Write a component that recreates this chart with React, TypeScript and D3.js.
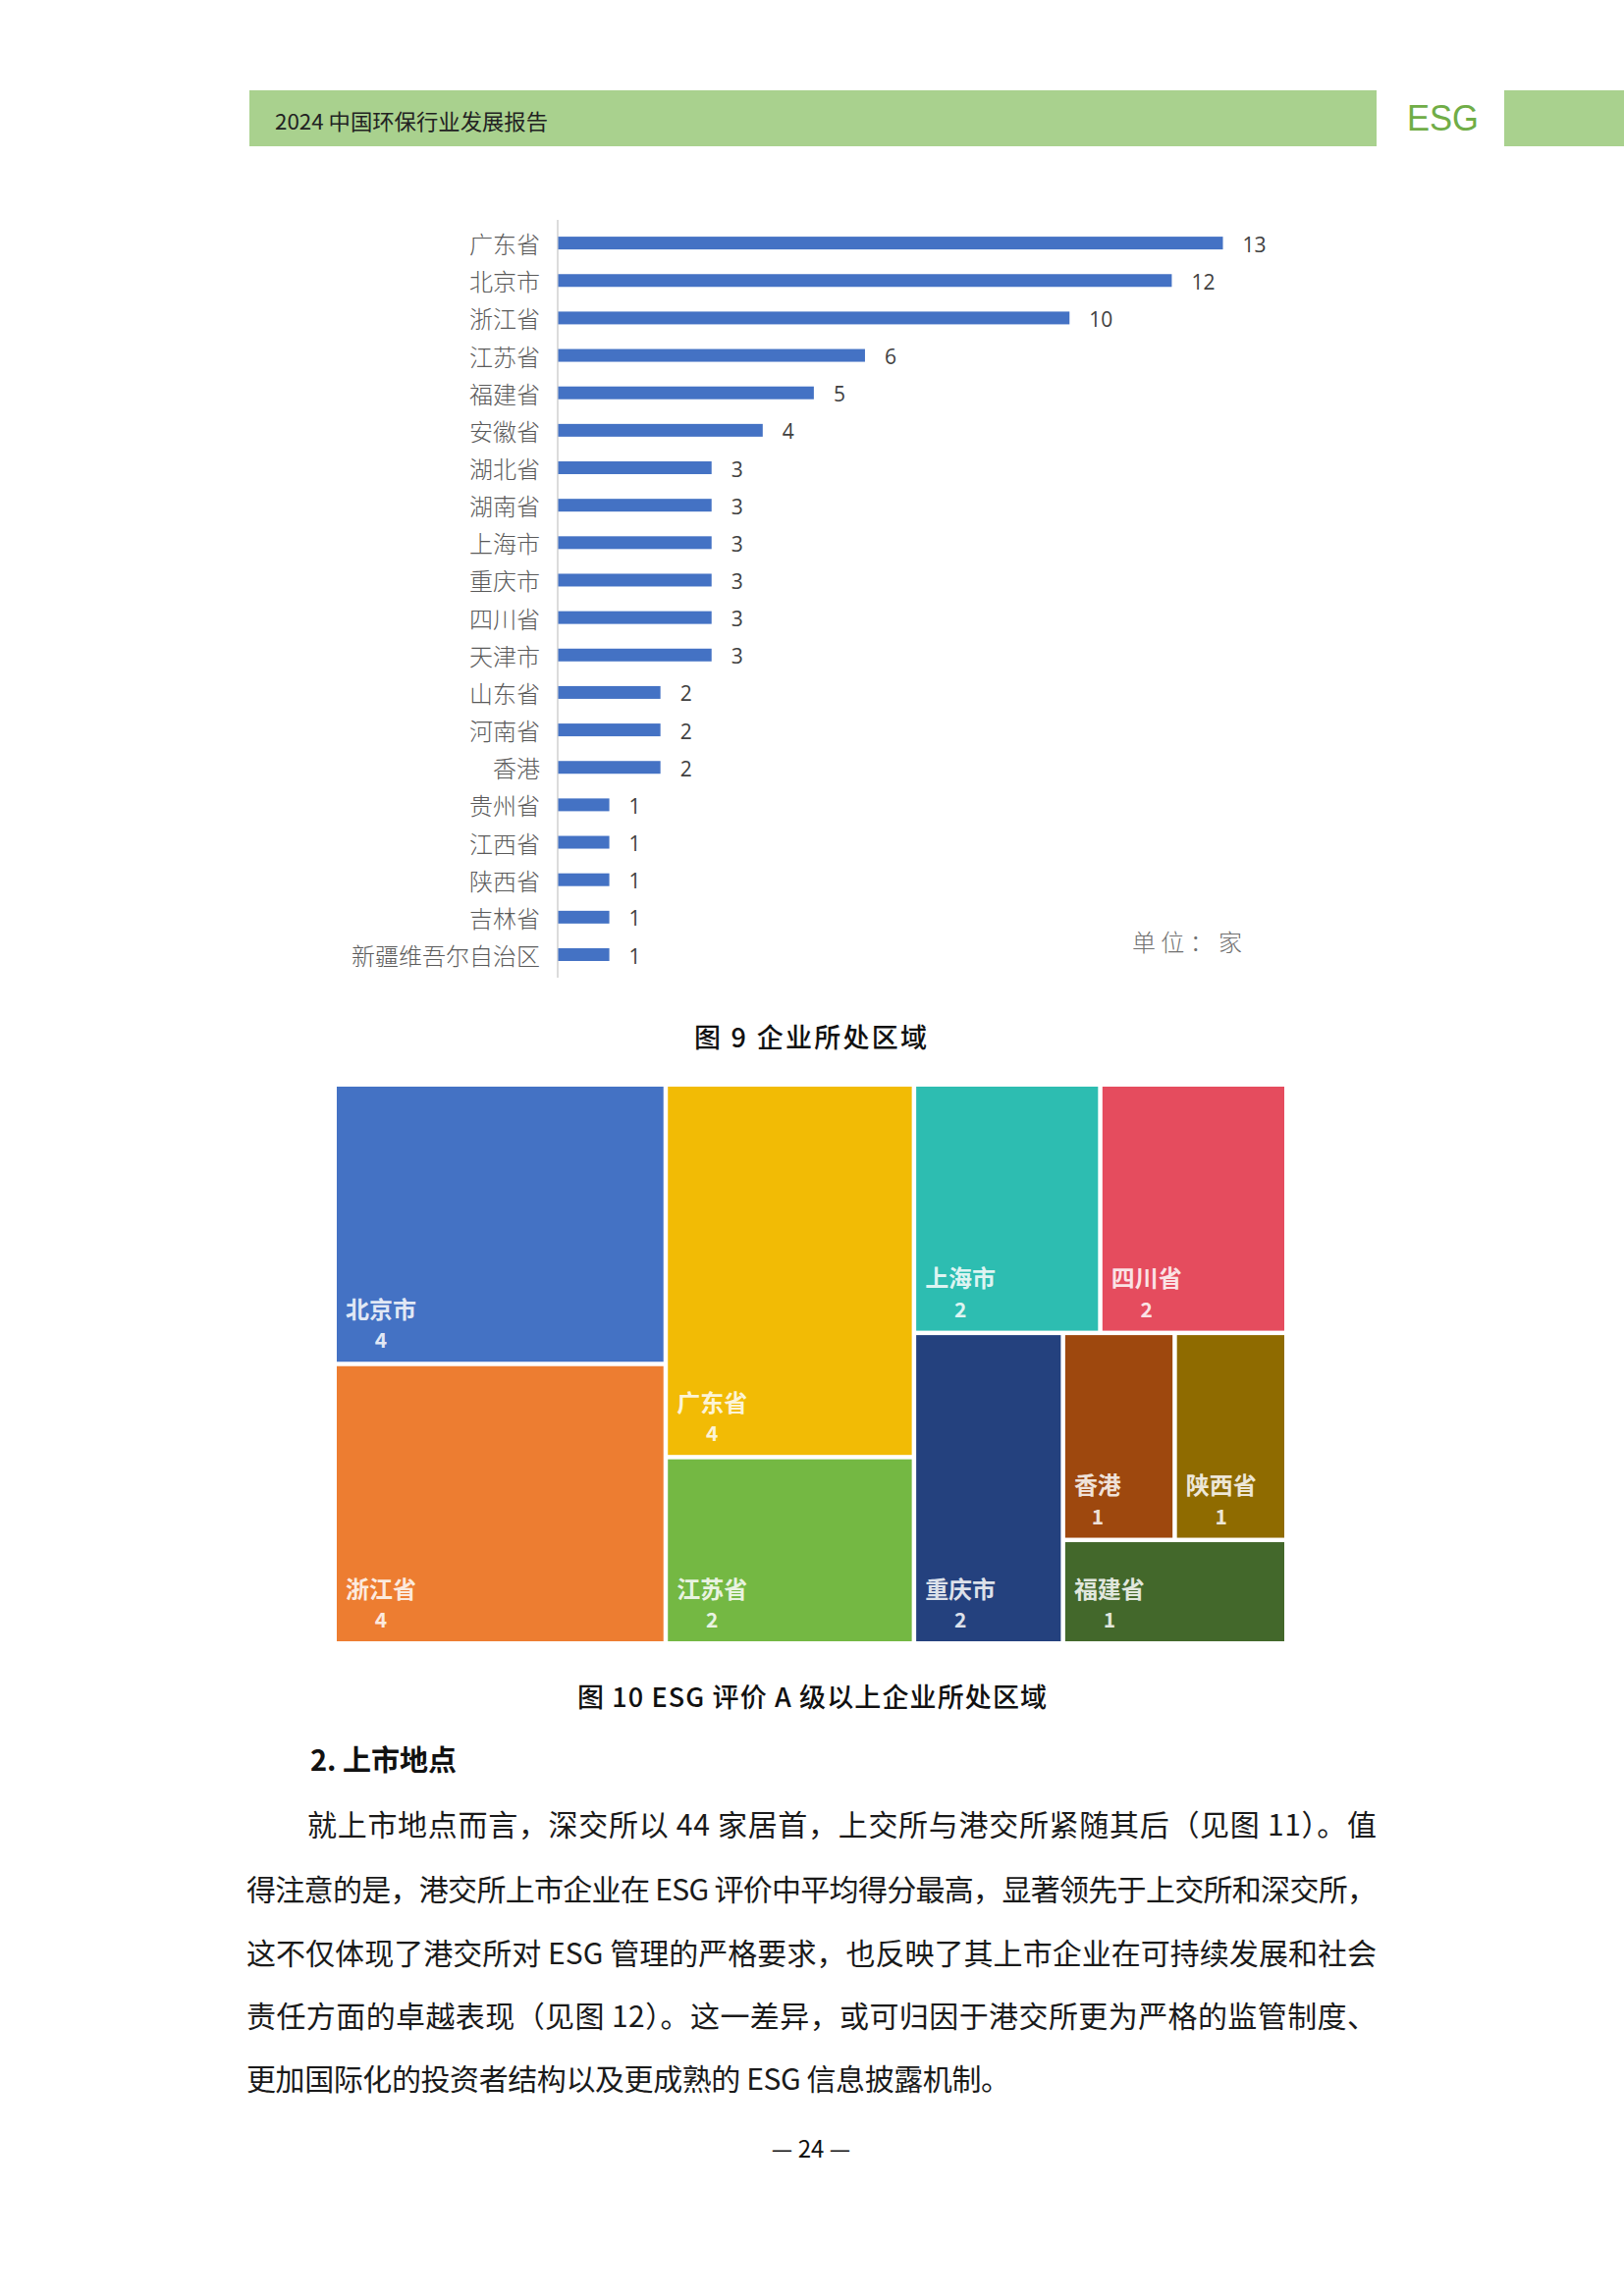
import React from "react";
import * as d3 from "d3";

// ---------- data ----------
const barCategories = [
  "广东省", "北京市", "浙江省", "江苏省", "福建省", "安徽省", "湖北省", "湖南省", "上海市", "重庆市",
  "四川省", "天津市", "山东省", "河南省", "香港", "贵州省", "江西省", "陕西省", "吉林省", "新疆维吾尔自治区",
];
const barValues = [13, 12, 10, 6, 5, 4, 3, 3, 3, 3, 3, 3, 2, 2, 2, 1, 1, 1, 1, 1];

const tmNames = ["北京市", "浙江省", "广东省", "江苏省", "上海市", "四川省", "重庆市", "香港", "陕西省", "福建省"];
const tmValues = [4, 4, 4, 2, 2, 2, 2, 1, 1, 1];
const tmColors = ["#4472C4", "#ED7D31", "#F2BB05", "#74B843", "#2DBDB1", "#E54C5E", "#24417E", "#9E480E", "#8F6B00", "#43682B"];
// nesting of the tiles (indices into tmNames), alternating columns / rows
const tmNest: any = [[0, 1], [2, 3], [[4, 5], [6, [[7, 8], 9]]]];

const headerTitle = "2024 中国环保行业发展报告";
const caption9 = "图 9  企业所处区域";
const caption10 = "图 10 ESG 评价 A 级以上企业所处区域";
const unitLabel = "单位：家";
const heading = "2. 上市地点";
const paragraphLines = [
  "就上市地点而言，深交所以 44 家居首，上交所与港交所紧随其后（见图 11）。值",
  "得注意的是，港交所上市企业在 ESG 评价中平均得分最高，显著领先于上交所和深交所，",
  "这不仅体现了港交所对 ESG 管理的严格要求，也反映了其上市企业在可持续发展和社会",
  "责任方面的卓越表现（见图 12）。这一差异，或可归因于港交所更为严格的监管制度、",
  "更加国际化的投资者结构以及更成熟的 ESG 信息披露机制。",
];
const pageNumber = "— 24 —";

const CJK = '"Noto Sans CJK SC", "Noto Sans", sans-serif';

function buildNode(n: any): any {
  return Array.isArray(n)
    ? { children: n.map(buildNode) }
    : { name: tmNames[n], value: tmValues[n], color: tmColors[n] };
}

export default function App() {
  // ---------- bar chart ----------
  const y = d3.scalePoint<string>().domain(barCategories).range([247.6, 972.5]);
  const x = d3.scaleLinear().domain([0, 13]).range([568.5, 1245.5]);
  const barH = 13;

  // ---------- treemap ----------
  const tmX = 343, tmY = 1107, tmW = 965, tmH = 565;
  const root = d3.hierarchy(buildNode(tmNest)).sum((d: any) => d.value || 0);
  d3.treemap().tile(d3.treemapSliceDice).size([tmW, tmH]).paddingInner(4.5).round(false)(root as any);
  const leaves = root.leaves() as any[];

  return (
    <svg width={1654} height={2339} style={{ position: "absolute", left: 0, top: 0, background: "#fff" }}>
      <rect x={0} y={0} width={1654} height={2339} fill="#fff" />
      {/* header */}
      <rect x={254} y={92} width={1148} height={57} fill="#A9D18E" />
      <rect x={1532} y={92} width={122} height={57} fill="#A9D18E" />
      <text x={280} y={122} fontFamily={CJK} fontSize={22} fill="#222" dominantBaseline="central" textLength={278} lengthAdjust="spacingAndGlyphs">
        {headerTitle}
      </text>
      <text x={1433} y={120} fontFamily='"Liberation Sans", "DejaVu Sans", sans-serif' fontSize={36} fill="#70AD47" dominantBaseline="central" textLength={73} lengthAdjust="spacingAndGlyphs">
        ESG
      </text>

      {/* bar chart */}
      <line x1={568} x2={568} y1={224} y2={996} stroke="#D0D0D0" strokeWidth={1.5} />
      {barCategories.map((c, i) => (
        <g key={c}>
          <rect x={x(0)} y={(y(c) as number) - barH / 2} width={x(barValues[i]) - x(0)} height={barH} fill="#4472C4" />
          <text x={550} y={y(c)} textAnchor="end" dominantBaseline="central" fontFamily={CJK} fontWeight={300} fontSize={24} fill="#5a5a5a">
            {c}
          </text>
          <text x={x(barValues[i]) + 20} y={(y(c) as number) + 1} dominantBaseline="central" fontFamily='"Open Sans", "Noto Sans", sans-serif' fontSize={21} fill="#404040">
            {barValues[i]}
          </text>
        </g>
      ))}
      <text x={1153} y={958} dominantBaseline="central" fontFamily={CJK} fontWeight={300} fontSize={24} fill="#707070" textLength={112} lengthAdjust="spacing">
        {unitLabel}
      </text>
      <text x={707} y={1055} dominantBaseline="central" fontFamily={CJK} fontWeight={500} fontSize={27} fill="#111" textLength={237} lengthAdjust="spacing">
        {caption9}
      </text>

      {/* treemap */}
      <g transform={`translate(${tmX},${tmY})`}>
        {leaves.map((l) => {
          const nameW = l.data.name.length * 24;
          const cx = l.x0 + 9 + nameW / 2;
          return (
            <g key={l.data.name}>
              <rect x={l.x0} y={l.y0} width={l.x1 - l.x0} height={l.y1 - l.y0} fill={l.data.color} />
              <text x={l.x0 + 9} y={l.y1 - 55} dominantBaseline="central" fontFamily={CJK} fontWeight={700} fontSize={24} fill="#fff" fillOpacity={0.85}>
                {l.data.name}
              </text>
              <text x={cx} y={l.y1 - 23} textAnchor="middle" dominantBaseline="central" fontFamily={CJK} fontWeight={700} fontSize={21} fill="#fff" fillOpacity={0.85}>
                {l.data.value}
              </text>
            </g>
          );
        })}
      </g>
      <text x={588} y={1727} dominantBaseline="central" fontFamily={CJK} fontWeight={500} fontSize={27} fill="#111" textLength={478} lengthAdjust="spacing">
        {caption10}
      </text>

      {/* text body */}
      <text x={316} y={1791} dominantBaseline="central" fontFamily={CJK} fontWeight={700} fontSize={29} fill="#111">
        {heading}
      </text>
      {paragraphLines.map((line, i) => {
        const ys = [1857, 1923, 1988, 2052, 2116];
        const x0 = i === 0 ? 313 : 251;
        const len = i === 0 ? 1089 : i === paragraphLines.length - 1 ? 778 : 1151;
        return (
          <text key={i} x={x0} y={ys[i]} dominantBaseline="central" fontFamily={CJK} fontSize={30} fill="#1a1a1a" textLength={len} lengthAdjust="spacing">
            {line}
          </text>
        );
      })}
      <text x={826} y={2187} textAnchor="middle" dominantBaseline="central" fontFamily={CJK} fontSize={24} fill="#111">
        {pageNumber}
      </text>
    </svg>
  );
}
